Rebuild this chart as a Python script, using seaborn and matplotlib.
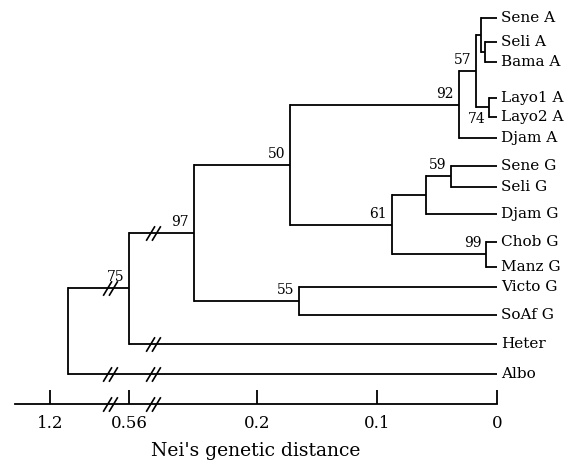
import numpy as np
import matplotlib
matplotlib.use("Agg")
import matplotlib.pyplot as plt
import seaborn as sns
from matplotlib.path import Path

# ---------------- data ----------------
leaves = ["Sene A", "Seli A", "Bama A", "Layo1 A", "Layo2 A", "Djam A",
          "Sene G", "Seli G", "Djam G", "Chob G", "Manz G", "Victo G",
          "SoAf G", "Heter", "Albo"]
leaf_row = [18, 42, 62, 98, 117, 138, 166, 187, 214, 242, 267, 287, 315, 344, 374]

node_names = ["n0", "n1", "n2", "n3", "n4", "n5", "n6", "n7", "n8", "n9", "n10", "n11", "n12", "n13"]
child_a = ["Seli A", "Sene A", "Layo1 A", "n1", "n3", "Sene G", "n5", "Chob G", "n6", "n4", "Victo G", "n9", "n11", "n12"]
child_b = ["Bama A", "n0", "Layo2 A", "n2", "Djam A", "Seli G", "Djam G", "Manz G", "n7", "n8", "SoAf G", "n10", "Heter", "Albo"]
node_dist = [0.010, 0.013, 0.0067, 0.0175, 0.032, 0.038, 0.059, 0.009, 0.0875, 0.1725, 0.165, 0.2525, 0.56, 1.14]
bootstrap = [None, None, 74, 57, 92, 59, None, 99, 61, 50, 55, 97, 75, None]
label_below = {"n2"}

tick_vals = [1.2, 0.56, 0.2, 0.1, 0]
tick_text = ["1.2", "0.56", "0.2", "0.1", "0"]
break_at = [0.8, 0.39]

# ---------------- broken distance scale ----------------
D = np.array([-1.0, 0.0, 0.285, 0.50, 0.61, 1.0, 1.2, 5.0])
P = np.array([1697, 497, 155, 150, 111.5, 108.5, 50, 50 - 3.8 * 292.5])

def fwd(d):
    return np.interp(np.asarray(d, float), D, -P)

def inv(v):
    return np.interp(np.asarray(v, float), -P, D)

sns.set_theme(style="white")
plt.rcParams["font.family"] = ["DejaVu Serif"]
plt.rcParams["text.color"] = "black"
plt.rcParams["axes.labelcolor"] = "black"
plt.rcParams["xtick.color"] = "black"
plt.rcParams["xtick.labelcolor"] = "black"

W, H = 571, 466
fig = plt.figure(figsize=(W / 100, H / 100), dpi=100)
ax = fig.add_axes([15 / W, (H - 404) / H, (497 - 15) / W, (404 - 8) / H])
ax.set_xscale("function", functions=(fwd, inv))
ax.set_xlim(1.32, 0)
ax.set_ylim(404, 8)

# slash marker for breaks
slash = Path([(-7.5, -7.5), (1.5, 7.5), (-1.5, -7.5), (7.5, 7.5)],
             [Path.MOVETO, Path.LINETO, Path.MOVETO, Path.LINETO])

def brk(x, y):
    ax.plot([x], [y], marker=slash, markersize=10.5, color="black",
            markeredgewidth=1.2, linestyle="none", clip_on=False, zorder=4)

lw = 1.3
height = {n: 0.0 for n in leaves}
ypos = dict(zip(leaves, leaf_row))
for n, a, b, d in zip(node_names, child_a, child_b, node_dist):
    height[n] = d
    ypos[n] = (ypos[a] + ypos[b]) / 2

for n, a, b, d, bs in zip(node_names, child_a, child_b, node_dist, bootstrap):
    ax.plot([d, d], [ypos[a], ypos[b]], color="black", lw=lw, clip_on=False,
            solid_capstyle="projecting")
    for c in (a, b):
        ax.plot([height[c], d], [ypos[c], ypos[c]], color="black", lw=lw,
                clip_on=False, solid_capstyle="butt")
        for bk in break_at:
            if height[c] < bk < d:
                brk(bk, ypos[c])
    if bs is not None:
        if n in label_below:
            ax.annotate(str(bs), (d, ypos[n]), xytext=(-3, -5),
                        textcoords="offset pixels", ha="right", va="top",
                        fontsize=10, color="black")
        else:
            ax.annotate(str(bs), (d, ypos[n]), xytext=(-5, 4),
                        textcoords="offset pixels", ha="right", va="bottom",
                        fontsize=10, color="black")

for name in leaves:
    ax.annotate(name, (0, ypos[name]), xytext=(4, 0), textcoords="offset pixels",
                ha="left", va="center", fontsize=11, color="black",
                annotation_clip=False)

for bk in break_at:
    brk(bk, 404)

for s in ["left", "top", "right"]:
    ax.spines[s].set_visible(False)
ax.spines["bottom"].set_color("black")
ax.spines["bottom"].set_linewidth(lw)
ax.set_yticks([])
ax.set_xticks(tick_vals)
ax.set_xticklabels(tick_text, fontsize=12)
ax.xaxis.set_minor_locator(matplotlib.ticker.NullLocator())
ax.tick_params(axis="x", direction="in", length=10, width=lw, color="black",
               pad=8, bottom=True)
ax.set_xlabel("Nei's genetic distance", fontsize=13.5, labelpad=7)

fig.savefig("out.png", dpi=100)
